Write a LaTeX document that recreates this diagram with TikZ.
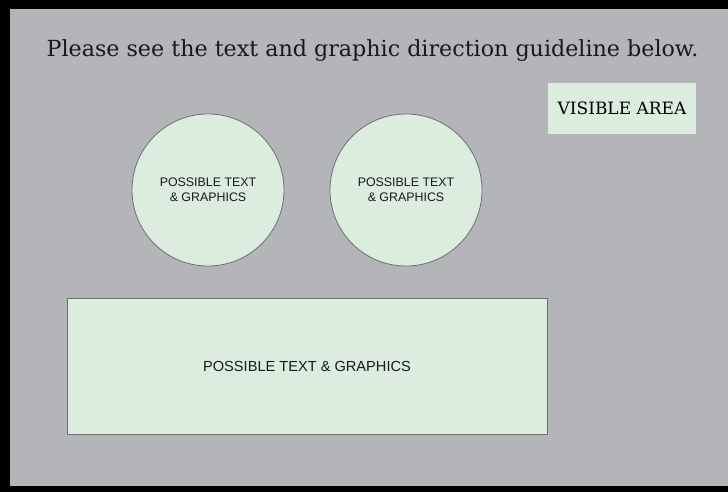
\documentclass[tikz,border=0pt]{standalone}
\usepackage{fontspec}
\setmainfont{DejaVu Serif}
\newfontfamily\sansf{Liberation Sans}
\definecolor{bgray}{HTML}{B3B5B9}
\definecolor{lgreen}{HTML}{DCECDF}
\definecolor{edge}{HTML}{6E716F}
\begin{document}
\begin{tikzpicture}[x=1pt,y=-1pt,
  zone/.style={fill=lgreen,draw=edge,line width=0.8pt},
  circzone/.style={zone,circle,minimum size=152pt,inner sep=0pt,align=center,font=\sansf\fontsize{12.4}{15}\selectfont,text=black!90},
  txt/.style={inner sep=0pt}]
\useasboundingbox (0,0) rectangle (728,492);
\fill[black] (0,0) rectangle (728,492);
\fill[bgray] (10,9) rectangle (728,486);
\node[txt,font=\fontsize{22.2}{25}\selectfont,text=black!90] (title) at (372.5,51) {Please see the text and graphic direction guideline below.};
\node[fill=lgreen,minimum width=148pt,minimum height=51pt,inner sep=0pt,font=\fontsize{17}{19}\selectfont] (vis) at (622,108.5) {VISIBLE AREA};
\node[circzone] (c1) at (208,190) {POSSIBLE TEXT\\\& GRAPHICS};
\node[circzone] (c2) at (406,190) {POSSIBLE TEXT\\\& GRAPHICS};
\node[zone,minimum width=480pt,minimum height=136pt,inner sep=0pt,text depth=0pt,font=\sansf\fontsize{14.6}{16}\selectfont,text=black!90] (rect) at (307,366) {POSSIBLE TEXT \& GRAPHICS};
\end{tikzpicture}
\end{document}
